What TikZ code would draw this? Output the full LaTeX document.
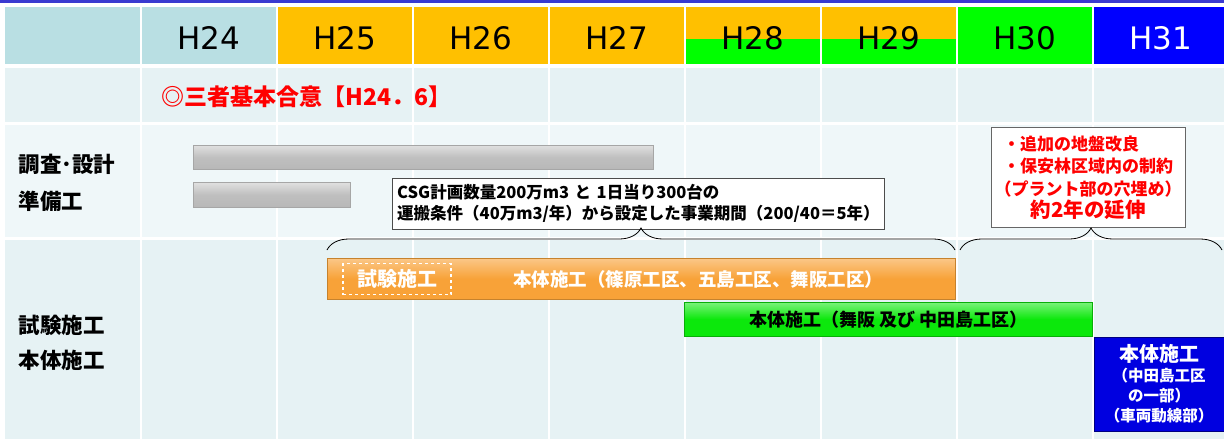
\documentclass[tikz,border=0pt]{standalone}
\usepackage{fontspec}
\setmainfont{Liberation Sans}
\newfontfamily\jp{Noto Sans CJK JP}
\newfontfamily\yearfont{DejaVu Sans}
\usetikzlibrary{decorations.pathreplacing}
\definecolor{topline}{HTML}{3A3AD0}
\definecolor{hdrteal}{HTML}{B9DFE3}
\definecolor{hdrorange}{HTML}{FFC000}
\definecolor{hdrgreen}{HTML}{00FF00}
\definecolor{hdrblue}{HTML}{0000FF}
\definecolor{rowa}{HTML}{E6F2F4}
\definecolor{rowb}{HTML}{EFF7F9}
\definecolor{barorange}{HTML}{F8A238}
\definecolor{bargreen}{HTML}{0CE80C}
\definecolor{boxblue}{HTML}{0000E0}
\tikzset{
  yearlbl/.style={font=\yearfont\fontsize{31}{32}\selectfont},
  rowlbl/.style={anchor=west, font=\jp\bfseries\fontsize{21.5}{26}\selectfont},
  redtxt/.style={text=red, font=\jp\bfseries\fontsize{23}{26}\selectfont},
  graybar/.style={anchor=north west, draw=black!35, top color=black!12, bottom color=black!28, middle color=black!25},
  notebox/.style={anchor=north west, draw=black!70, fill=white, align=left, inner xsep=5pt,
    font=\jp\bfseries\fontsize{16.5}{21}\selectfont},
  redbox/.style={anchor=north west, draw=black!60, fill=white, text=red, align=center,
    font=\jp\bfseries\fontsize{17}{22}\selectfont},
  spanbrace/.style={decorate, decoration={brace, amplitude=22pt, aspect=0.5}, line width=0.8pt},
  orangebar/.style={anchor=north west, draw=barorange!80!black, top color=barorange!60!white, bottom color=barorange, middle color=barorange},
  greenbar/.style={anchor=north west, draw=bargreen!75!black, top color=bargreen!55!white, bottom color=bargreen, middle color=bargreen,
    font=\jp\bfseries\fontsize{18}{22}\selectfont},
  trialbox/.style={draw=white, dashed, line width=1.6pt, text=white, font=\jp\bfseries\fontsize{20}{22}\selectfont},
  bartxt/.style={text=white, font=\jp\bfseries\fontsize{18.5}{22}\selectfont},
  bluebox/.style={anchor=north west, draw=blue!50!black, fill=boxblue, text=white, align=center,
    font=\jp\bfseries\fontsize{15.5}{20}\selectfont}
}
\begin{document}
\begin{tikzpicture}[x=1pt,y=-1pt]
\useasboundingbox (0,0) rectangle (1224,439);
\fill[white] (0,0) rectangle (1224,439);
\fill[topline] (0,0) rectangle (1224,3);
% grid cells
\foreach \xl/\xr/\hc in {5/140/hdrteal, 142/276/hdrteal, 278/412/hdrorange, 414/548/hdrorange,
  550/684/hdrorange, 686/820/hdrorange, 822/956/hdrorange, 958/1092/hdrgreen, 1094/1230/hdrblue} {
  \fill[\hc] (\xl,7) rectangle (\xr,64);
  \fill[rowa] (\xl,68) rectangle (\xr,122);
  \fill[rowb] (\xl,125) rectangle (\xr,237);
  \fill[rowa] (\xl,240) rectangle (\xr,445);
}
\fill[hdrgreen] (686,39) rectangle (820,64);
\fill[hdrgreen] (822,39) rectangle (956,64);
% years
\foreach \yr [count=\i] in {24,...,30}
  \node[yearlbl] (y\yr) at ({142+136*(\i-1)+67},38) {H\yr};
\node[yearlbl, text=white] (y31) at (1161,38) {H31};
% row labels
\node[redtxt, anchor=west] (agree) at (158,97) {◎三者基本合意【H24．6】};
\node[rowlbl] (survey) at (15,164) {調査･設計};
\node[rowlbl] (prep) at (15,201) {準備工};
\node[rowlbl] (trialrow) at (15,325) {試験施工};
\node[rowlbl] (mainrow) at (15,360) {本体施工};
% bars
\node[graybar, minimum width=460pt, minimum height=24pt] (surveybar) at (193,145) {};
\node[graybar, minimum width=157pt, minimum height=25pt] (prepbar) at (193,182) {};
\node[notebox, text width=482pt, minimum height=51pt] (note) at (392,178)
  {CSG計画数量200万m3 と 1日当り300台の\\運搬条件（40万m3/年）から設定した事業期間（200/40＝5年）};
\node[redbox, minimum width=193pt, minimum height=100pt] (delay) at (991,127)
  {\begin{tabular}{@{}l@{}}・追加の地盤改良\\・保安林区域内の制約\end{tabular}\\（プラント部の穴埋め）\\
   {\fontsize{20.5}{24}\selectfont 約2年の延伸}};
% braces
\coordinate (b1s) at (327,250);
\coordinate (b1e) at (955,250);
\coordinate (b2s) at (960,250);
\coordinate (b2e) at (1222,250);
\draw[spanbrace] (b1s) -- (b1e);
\draw[spanbrace] (b2s) -- (b2e);
% construction bars
\node[orangebar, minimum width=628pt, minimum height=41pt] (mainbar) at (327,258) {};
\node[trialbox, minimum width=108pt, minimum height=31pt] (trial) at (397,279) {試験施工};
\node[bartxt] (maintxt) at (698,279) {本体施工（篠原工区、五島工区、舞阪工区）};
\node[greenbar, minimum width=408pt, minimum height=34pt] (greenwork) at (684,302)
  {本体施工（舞阪 及び 中田島工区）};
\node[bluebox, minimum width=130pt, minimum height=94pt] (bluework) at (1094,337)
  {{\fontsize{20}{24}\selectfont 本体施工}\\（中田島工区\\の一部）\\（車両動線部）};
\end{tikzpicture}
\end{document}
